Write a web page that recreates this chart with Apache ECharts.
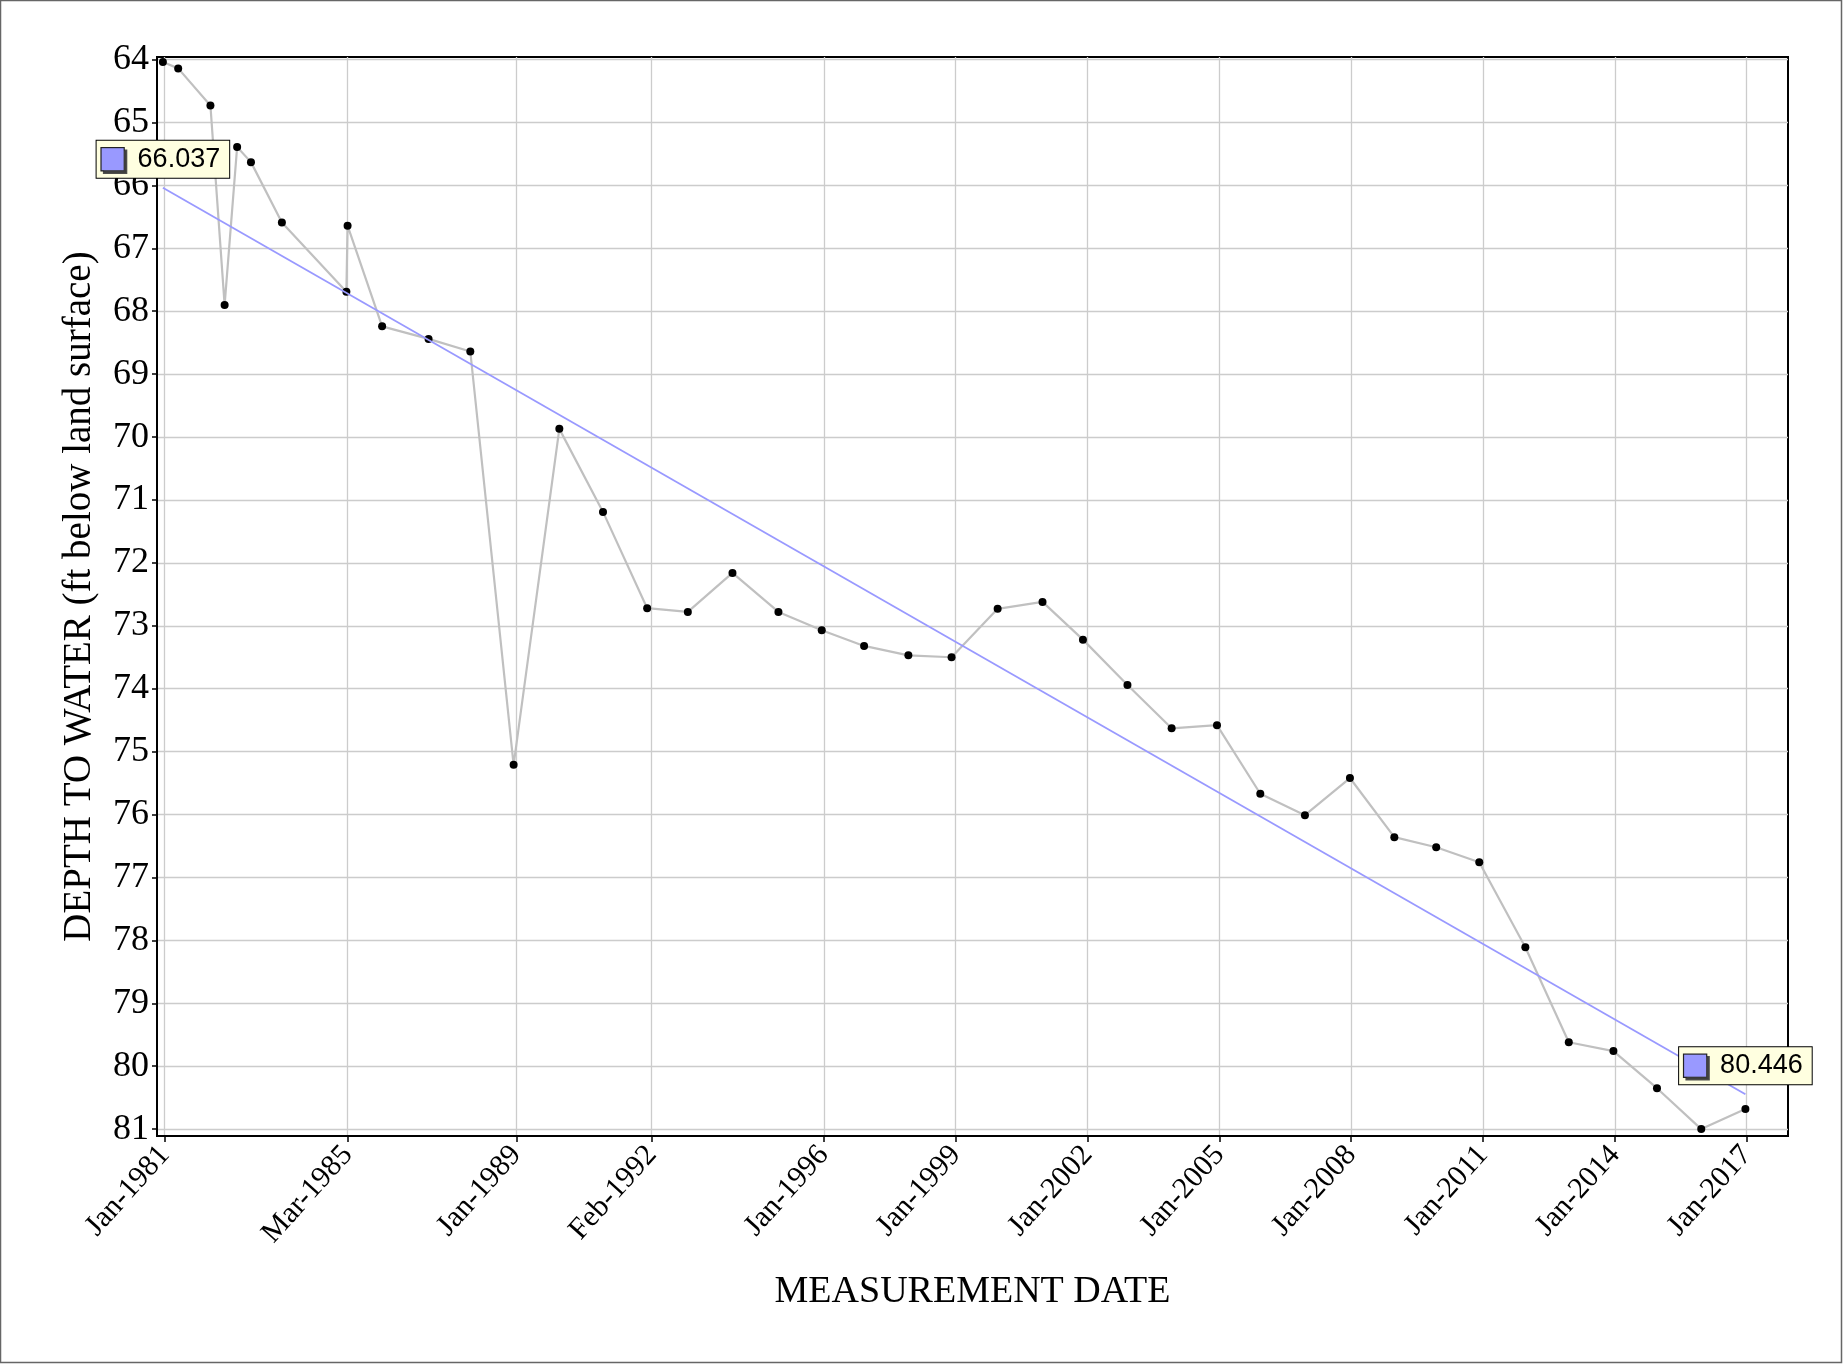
<!DOCTYPE html>
<html>
<head>
<meta charset="utf-8">
<script src="https://cdn.jsdelivr.net/npm/echarts@6/dist/echarts.min.js"></script>
<style>
  html, body { margin: 0; padding: 0; background: #fff; }
  #chart { width: 1843px; height: 1364px; }
</style>
</head>
<body>
<div id="chart"></div>
<script>
// measurement dates and depth to water (ft below land surface)
const dates = [
  '1980-12-17', '1981-04-23', '1982-01-16', '1982-05-14', '1982-08-26', '1982-12-19',
  '1983-09-02', '1985-02-19', '1985-03-01', '1985-12-13', '1987-01-03', '1987-12-16',
  '1988-12-10', '1989-12-25', '1990-12-23', '1991-12-25', '1992-11-27', '1993-12-03',
  '1994-12-20', '1995-12-15', '1996-12-01', '1997-12-04', '1998-11-28', '1999-12-16',
  '2000-12-23', '2001-11-24', '2002-11-29', '2003-12-01', '2004-12-12', '2005-12-07',
  '2006-12-13', '2007-12-22', '2008-12-25', '2009-12-08', '2010-12-01', '2011-12-19',
  '2012-12-14', '2013-12-20', '2014-12-17', '2015-12-20', '2016-12-21'
]
const depths = [
  64.04, 64.14, 64.73, 67.90, 65.39, 65.63,
  66.59, 67.69, 66.64, 68.24, 68.44, 68.64,
  75.21, 69.87, 71.19, 72.72, 72.78, 72.16,
  72.78, 73.07, 73.32, 73.47, 73.50, 72.73,
  72.62, 73.22, 73.94, 74.63, 74.58, 75.67,
  76.01, 75.42, 76.36, 76.52, 76.76, 78.11,
  79.62, 79.76, 80.35, 81.00, 80.68
]

// linear trend, first and last date
const trendValues = [66.037, 80.446]

const xTickDates = ['1981-01-01', '1985-03-01', '1989-01-01', '1992-02-01', '1996-01-01', '1999-01-01',
  '2002-01-01', '2005-01-01', '2008-01-01', '2011-01-01', '2014-01-01', '2017-01-01']
const xTickLabels = ['Jan-1981', 'Mar-1985', 'Jan-1989', 'Feb-1992', 'Jan-1996', 'Jan-1999',
  'Jan-2002', 'Jan-2005', 'Jan-2008', 'Jan-2011', 'Jan-2014', 'Jan-2017']
const yTicks = [64, 65, 66, 67, 68, 69, 70, 71, 72, 73, 74, 75, 76, 77, 78, 79, 80, 81]

const parse = (d) => +echarts.time.parse(d)
const xTickTimes = xTickDates.map(parse)
const times = dates.map(parse)

const serif = '"Liberation Serif", "DejaVu Serif", serif'
const sans = '"Liberation Sans", Arial, sans-serif'

const chart = echarts.init(document.getElementById('chart'), null, { renderer: 'canvas' })

chart.setOption({
  animation: false,
  backgroundColor: '#ffffff',
  graphic: [{
    type: 'rect',
    shape: { x: 0.5, y: 0.5, width: 1841, height: 1362 },
    style: { fill: 'none', stroke: '#666', lineWidth: 1.5 },
    silent: true
  }],
  grid: {
    left: 157, right: 55, top: 57, bottom: 228,
    show: true,
    borderColor: '#000',
    borderWidth: 2
  },
  xAxis: {
    type: 'value',
    min: parse('1980-10-29'),
    max: parse('2017-12-10'),
    name: 'MEASUREMENT DATE',
    nameLocation: 'middle',
    nameGap: 137,
    nameTextStyle: { fontFamily: serif, fontSize: 38, color: '#000' },
    axisLine: { show: true, lineStyle: { color: '#000', width: 2 } },
    axisTick: { show: true, customValues: xTickTimes, length: 6, lineStyle: { color: '#000', width: 1.5 } },
    axisLabel: {
      customValues: xTickTimes,
      rotate: 48,
      margin: 14,
      fontFamily: serif,
      fontSize: 30,
      color: '#000',
      formatter: (val) => {
        const i = xTickTimes.indexOf(val)
        return i >= 0 ? xTickLabels[i] : ''
      }
    },
    splitLine: { show: true, lineStyle: { color: '#cccccc', width: 1.3 } }
  },
  yAxis: {
    type: 'value',
    inverse: true,
    min: 63.959,
    max: 81.11,
    name: 'DEPTH TO WATER (ft below land surface)',
    nameLocation: 'middle',
    nameRotate: 90,
    nameGap: 58,
    nameTextStyle: { fontFamily: serif, fontSize: 39, color: '#000' },
    axisLine: { show: true, lineStyle: { color: '#000', width: 2 } },
    axisTick: { show: true, customValues: yTicks, length: 5, lineStyle: { color: '#000', width: 1.5 } },
    axisLabel: {
      customValues: yTicks,
      margin: 8,
      fontFamily: serif,
      fontSize: 36,
      color: '#000'
    },
    splitLine: { show: true, lineStyle: { color: '#cccccc', width: 1.3 } }
  },
  series: [
    {
      name: 'depth',
      type: 'line',
      data: times.map((t, i) => [t, depths[i]]),
      symbol: 'circle',
      symbolSize: 8,
      itemStyle: { color: '#000' },
      lineStyle: { color: '#c0c0c0', width: 2.2 },
      emphasis: { disabled: true },
      z: 2
    },
    {
      name: 'trend',
      type: 'line',
      data: [[times[0], trendValues[0]], [times[times.length - 1], trendValues[1]]],
      symbol: 'circle',
      symbolSize: 0.1,
      itemStyle: { color: '#9999ff' },
      lineStyle: { color: '#9999ff', width: 1.8 },
      emphasis: { disabled: true },
      z: 3,
      label: {
        show: true,
        position: 'top',
        distance: 10,
        backgroundColor: '#ffffe0',
        borderColor: '#000',
        borderWidth: 1,
        padding: [3, 9, 3, 5],
        formatter: (p) => '{sq|}{v|' + p.value[1].toFixed(3) + '}',
        rich: {
          sq: {
            width: 22,
            height: 22,
            backgroundColor: '#9999ff',
            borderColor: '#222',
            borderWidth: 1.2,
            shadowColor: 'rgba(60,60,60,0.9)',
            shadowOffsetX: 2.5,
            shadowOffsetY: 2.5
          },
          v: {
            fontFamily: sans,
            fontSize: 27,
            color: '#000',
            lineHeight: 31,
            padding: [0, 0, 0, 14]
          }
        }
      }
    }
  ]
})
</script>
</body>
</html>
